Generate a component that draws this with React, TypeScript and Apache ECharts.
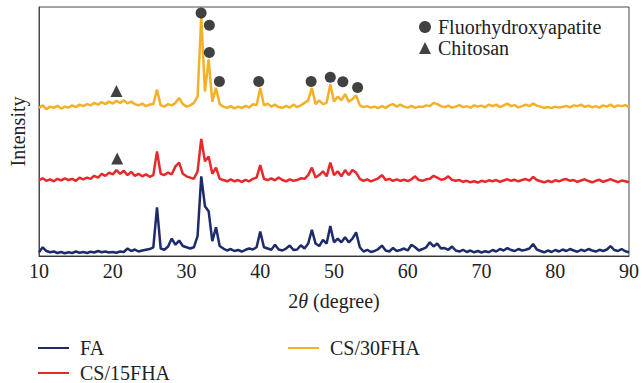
import React, { useEffect, useRef } from "react";
import * as echarts from "echarts";

// 2θ sampling grid (degrees), 0.5° step from 10 to 90
const angles: number[] = Array.from({ length: 161 }, (_, i) => 10 + i * 0.5);

// FA (bottom trace)
const faValues = [
  1.5, 3.5, 2, 1.5, 1.8, 1.2, 1.6, 1.1, 1.5, 1.2,
  1.8, 1.3, 1.6, 1.2, 1.7, 1.4, 2, 1.5, 1.8, 1.4,
  1.6, 1.3, 1.8, 1.6, 3, 2, 2.6, 1.8, 2.2, 2.5,
  2.8, 3.5, 19.5, 3, 2.5, 3.8, 7, 4.5, 6.2, 4,
  3.5, 3, 3.5, 8, 32, 20, 18, 6, 11.5, 4,
  3, 2.2, 2.8, 2, 2.4, 1.8, 2.5, 3, 2.6, 3.5,
  9.8, 3.5, 3, 2.5, 4.5, 2.6, 2.2, 3, 4.2, 2.4,
  2.6, 4.3, 3, 5, 10.5, 5, 4, 6.5, 5, 12,
  5.5, 7, 5.5, 7.5, 5.5, 7, 9.5, 3.5, 1.8, 2.5,
  1.6, 2, 2.8, 4.2, 2.2, 1.8, 3.2, 2, 2.4, 3,
  2.2, 4.5, 3.5, 2.2, 2.8, 3.5, 5.5, 3.8, 5, 3,
  3.2, 2.5, 3.8, 2.2, 1.8, 2.5, 1.6, 2.2, 1.5, 2,
  1.4, 1.9, 1.5, 2.4, 1.8, 2.8, 2.2, 3.2, 2.4, 2,
  2.8, 2.2, 2.5, 3, 4.8, 2.6, 2, 1.5, 2.2, 1.6,
  2.4, 1.8, 2.6, 2, 2.8, 2.2, 1.7, 2.5, 2, 2.8,
  2.2, 1.8, 2.5, 2, 2.6, 4, 2.4, 2, 2.8, 1.9,
  1.5,
];

// CS/15FHA (middle trace)
const cs15Values = [
  30.5, 31.2, 30.2, 30.8, 30, 31, 30.4, 31.2, 30.5, 31,
  30.2, 31.5, 30.8, 31.5, 31, 32.2, 31.5, 33, 32.2, 33.5,
  32.8, 34.5, 33, 34.2, 32.5, 33.8, 32.2, 33, 32, 32.8,
  31.8, 32.5, 42, 33, 32.5, 33.5, 32.8, 36, 37.5, 33,
  32, 31.5, 31, 34, 47, 38, 40, 33, 35.5, 31,
  30.5, 30, 30.8, 30, 30.5, 29.8, 30.6, 30, 31, 31.5,
  36.5, 31, 30.5, 31.2, 30.4, 31.5, 30.5, 30, 30.8, 30.2,
  30.5, 31.2, 31, 32.5, 35.5, 31.5, 32.5, 34, 32, 37.5,
  32.5, 34, 32, 34.5, 32.5, 34.5, 33.5, 31, 30.2, 30.8,
  30, 30.6, 31.2, 32.5, 30.5, 31, 30.2, 30.8, 30.2, 30.6,
  30.1, 30.8, 32, 30.5, 30.2, 30.8, 31, 32.2, 31.5, 30.6,
  30.9, 32, 30.6, 30.2, 30.5, 29.8, 30.2, 29.6, 30, 29.5,
  30.2, 29.8, 30.4, 30, 30.5, 29.8, 30.3, 30.8, 30.2, 30.6,
  30, 30.5, 30.9, 30.3, 31.8, 30.5, 30, 29.6, 30.2, 29.7,
  30.4, 30, 30.6, 30.9, 30.2, 30.5, 29.8, 30.3, 30.8, 30.1,
  29.6, 30.2, 30.6, 29.8, 30.3, 30.9, 30.2, 29.7, 30.3, 30,
  29.6,
];

// CS/30FHA (top trace)
const cs30Values = [
  59.5, 60.5, 59, 60, 59.5, 60.3, 59.2, 60, 59.6, 60.5,
  59.8, 60.8, 60.2, 61, 60.5, 61.5, 60.8, 61.8, 61, 62,
  61.2, 62.3, 61.5, 62.5, 61.3, 62, 61, 60.5, 61.2, 60.2,
  60.8, 61, 66.8, 60.5, 60, 61, 60.5, 61.5, 63.5, 61,
  60, 60.5, 61.5, 64, 96, 66, 79, 62, 67.5, 61,
  60, 59.5, 60.2, 59.3, 60, 59.5, 60.3, 59.6, 61, 60.5,
  67.5, 60.5, 61.2, 60, 60.8, 59.8, 59.5, 60.3, 59.6, 60.8,
  59.8, 60.5, 61.5, 62.5, 67.5, 61, 62.5, 61, 61.5, 69,
  62, 64, 62.5, 65, 62, 63, 64.5, 60.5, 59.8, 60.2,
  59.6, 60, 59.4, 60.2, 59.5, 60.5, 61, 60, 60.8, 60,
  59.6, 60.3, 59.5, 60, 59.8, 60.5, 60.2, 61.5, 61, 60.2,
  59.8, 60.4, 59.6, 60, 60.6, 59.8, 60.2, 59.6, 60.5, 60,
  60.4, 59.7, 60.8, 60.2, 60.8, 59.8, 60.5, 61.2, 60.2, 60.6,
  59.7, 60.2, 60.8, 60.2, 61.2, 60.4, 60, 59.5, 59.8, 59.4,
  60, 59.6, 59.8, 60.3, 59.7, 60.5, 60.2, 60.8, 59.9, 60.4,
  59.7, 60.2, 59.6, 60.5, 60, 60.8, 59.8, 60.5, 60.2, 60.6,
  59.8,
];

// Phase markers
const fhaAngles = [31.98, 33.1, 33.1, 34.46, 39.8, 46.9, 49.5, 51.2, 53.2];
const fhaLevels = [97.6, 92.7, 81.7, 70.1, 70.1, 70.1, 71.8, 70, 67.7];
const chitosanAngles = [20.5, 20.6];
const chitosanLevels = [66.3, 39.2];

const seriesNames = ["FA", "CS/15FHA", "CS/30FHA"];
const seriesColors = ["#1d2b6b", "#e8282a", "#f3b127"];

const FONT = "'Times New Roman', 'Liberation Serif', serif";
const FS = 20;

export default function App() {
  const ref = useRef<HTMLDivElement>(null);

  useEffect(() => {
    document.body.style.margin = "0";
    if (!ref.current) return;
    const chart = echarts.init(ref.current, undefined, { renderer: "svg" });
    const pair = (vals: number[]) => angles.map((a, i) => [a, vals[i]]);
    const traces = [faValues, cs15Values, cs30Values];
    const legendText = { fontSize: FS, fontFamily: FONT, color: "#222", padding: [0, 0, 0, 6] };

    const option: any = {
      animation: false,
      backgroundColor: "#ffffff",
      textStyle: { fontFamily: FONT },
      grid: {
        left: 35,
        right: 10,
        top: 7,
        bottom: 127,
        show: true,
        borderColor: "#4a4a4a",
        borderWidth: 1,
      },
      xAxis: {
        type: "value",
        min: 10,
        max: 90,
        interval: 10,
        splitLine: { show: false },
        axisLine: { show: true, lineStyle: { color: "#333", width: 1 } },
        axisTick: { show: false },
        axisLabel: { color: "#222", fontSize: FS, fontFamily: FONT, margin: 5 },
        name: "{n|2}{t|θ}{n| (degree)}",
        nameLocation: "middle",
        nameGap: 35,
        nameTextStyle: {
          rich: {
            n: { fontSize: FS, fontFamily: FONT, color: "#222" },
            t: { fontSize: FS, fontFamily: FONT, fontStyle: "italic", color: "#222" },
          },
        },
      },
      yAxis: {
        type: "value",
        min: 0,
        max: 100,
        splitLine: { show: false },
        axisLine: { show: true, lineStyle: { color: "#4a4a4a" } },
        axisTick: { show: false },
        axisLabel: { show: false },
        name: "Intensity",
        nameLocation: "middle",
        nameGap: 11,
        nameTextStyle: { fontSize: FS, fontFamily: FONT, color: "#222" },
      },
      legend: [
        {
          data: ["FA"],
          left: 33,
          top: 333,
          icon: "rect",
          itemWidth: 31,
          itemHeight: 2,
          textStyle: legendText,
        },
        {
          data: ["CS/15FHA"],
          left: 33,
          top: 358,
          icon: "rect",
          itemWidth: 31,
          itemHeight: 2,
          textStyle: legendText,
        },
        {
          data: ["CS/30FHA"],
          left: 283,
          top: 333,
          icon: "rect",
          itemWidth: 31,
          itemHeight: 2,
          textStyle: legendText,
        },
        {
          data: ["Fluorhydroxyapatite", "Chitosan"],
          orient: "vertical",
          left: 414,
          top: 12,
          itemWidth: 12,
          itemHeight: 12,
          itemGap: 1,
          textStyle: { fontSize: FS, fontFamily: FONT, color: "#222", padding: [0, 0, 0, 2] },
        },
      ],
      series: [
        ...traces.map((vals, k) => ({
          name: seriesNames[k],
          type: "line",
          data: pair(vals),
          showSymbol: false,
          symbol: "none",
          lineStyle: { color: seriesColors[k], width: 2.5 },
          itemStyle: { color: seriesColors[k] },
          z: 2 + k,
        })),
        {
          name: "Fluorhydroxyapatite",
          type: "scatter",
          symbol: "circle",
          symbolSize: 11,
          itemStyle: { color: "#111" },
          data: fhaAngles.map((a, i) => [a, fhaLevels[i]]),
          z: 10,
        },
        {
          name: "Chitosan",
          type: "scatter",
          symbol: "triangle",
          symbolSize: 12,
          itemStyle: { color: "#111" },
          data: chitosanAngles.map((a, i) => [a, chitosanLevels[i]]),
          z: 10,
        },
      ],
    };
    chart.setOption(option);
    return () => chart.dispose();
  }, []);

  return <div ref={ref} style={{ width: 642, height: 383 }} />;
}
